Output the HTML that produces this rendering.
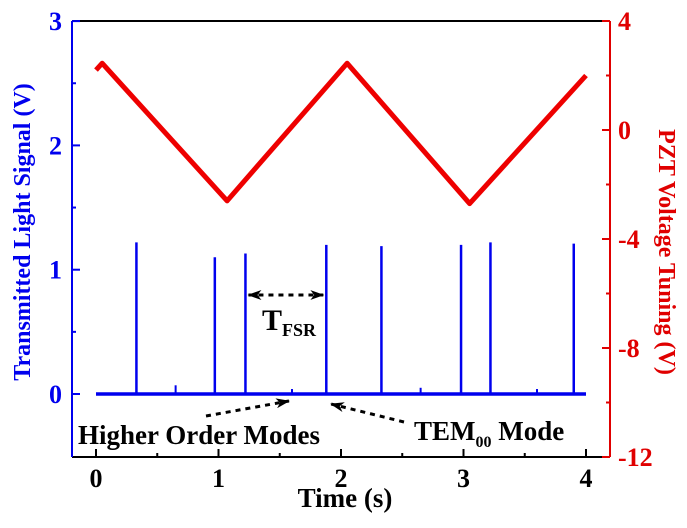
<!DOCTYPE html>
<html><head><meta charset="utf-8"><style>
body{margin:0;background:#fff}
svg text{font-family:"Liberation Serif",serif;font-weight:bold}
</style></head><body>
<svg id="c" width="687" height="523" viewBox="0 0 687 523">
<defs>
<marker id="ah2" viewBox="0 0 14 10" markerWidth="14" markerHeight="10" refX="13" refY="5" orient="auto" markerUnits="userSpaceOnUse"><path d="M0,0 L14,5 L0,10 L4,5 Z" fill="#000"/></marker>
<marker id="as2" viewBox="0 0 14 10" markerWidth="14" markerHeight="10" refX="1" refY="5" orient="auto" markerUnits="userSpaceOnUse"><path d="M14,0 L0,5 L14,10 L10,5 Z" fill="#000"/></marker>
</defs>
<g id="plot"></g>
</svg>
<script>
const xTicks=[0,1,2,3,4];
const leftTicks=[0,1,2,3];
const rightTicks=[4,0,-4,-8,-12];
const pztTimes=[0,0.05,1.07,2.05,3.05,4.0];
const pztVolts=[2.2,2.45,-2.6,2.45,-2.7,2.0];
const peakTimes=[0.33,0.97,1.22,1.88,2.33,2.98,3.22,3.90];
const peakHeights=[1.22,1.10,1.13,1.20,1.19,1.20,1.22,1.21];
const minorTimes=[0.65,1.6,2.65,3.6];
const minorHeights=[0.07,0.04,0.05,0.04];

const L=72,R=610,T=21,B=457;
const X=t=>96+t*122.5;
const YL=v=>394-v*124.3;
const YR=v=>21+(4-v)*27.25;
const NS='http://www.w3.org/2000/svg';
const g=document.getElementById('plot');
function el(tag,attrs,name,txt){const e=document.createElementNS(NS,tag);for(const k in attrs)e.setAttribute(k,attrs[k]);


if(txt!==undefined)e.textContent=txt;g.appendChild(e);return e;}

el('line',{x1:L,y1:T,x2:R,y2:T,stroke:'#000','stroke-width':2},'top-axis-line');
el('line',{x1:L,y1:B,x2:R,y2:B,stroke:'#000','stroke-width':2},'x-axis-line');
el('line',{x1:L,y1:T,x2:L,y2:B,stroke:'#0000ee','stroke-width':2},'left-y-axis-line');
el('line',{x1:R,y1:T,x2:R,y2:B,stroke:'#e00000','stroke-width':2},'right-y-axis-line');

xTicks.forEach(t=>{
  el('line',{x1:X(t),y1:B,x2:X(t),y2:B-8,stroke:'#000','stroke-width':2},'x-tick');
  if(t<4) el('line',{x1:X(t+0.5),y1:B,x2:X(t+0.5),y2:B-4,stroke:'#000','stroke-width':2},'x-minor-tick');
  el('text',{x:X(t),y:B+30,'text-anchor':'middle','font-size':26,fill:'#000'},'x-tick-label',String(t));
});
el('text',{x:345,y:507,'text-anchor':'middle','font-size':27,fill:'#000'},'x-axis-title','Time (s)');

leftTicks.forEach(v=>{
  el('line',{x1:L,y1:YL(v),x2:L+8,y2:YL(v),stroke:'#0000ee','stroke-width':2},'left-tick');
  el('line',{x1:L,y1:YL(v+0.5),x2:L+4,y2:YL(v+0.5),stroke:'#0000ee','stroke-width':2},'left-minor-tick');
  el('text',{x:62,y:YL(v)+9,'text-anchor':'end','font-size':26,fill:'#0000ee'},'left-tick-label',String(v));
});
el('text',{x:0,y:0,'text-anchor':'middle','font-size':24,fill:'#0000ee',transform:'translate(30,232) rotate(-90)'},'left-y-axis-title','Transmitted Light Signal (V)');

rightTicks.forEach(v=>{
  el('line',{x1:R,y1:YR(v),x2:R-8,y2:YR(v),stroke:'#e00000','stroke-width':2},'right-tick');
  if(v>-12) el('line',{x1:R,y1:YR(v-2),x2:R-4,y2:YR(v-2),stroke:'#e00000','stroke-width':2},'right-minor-tick');
  el('text',{x:618,y:YR(v)+9,'text-anchor':'start','font-size':26,fill:'#e00000'},'right-tick-label',String(v));
});
el('text',{x:0,y:0,'text-anchor':'middle','font-size':24,fill:'#e00000',transform:'translate(659,252) rotate(90)'},'right-y-axis-title','PZT Voltage Tuning (V)');

let pd=pztTimes.map((t,i)=>(i?'L':'M')+X(t)+','+YR(pztVolts[i])).join(' ');
el('path',{d:pd,fill:'none',stroke:'#ee0000','stroke-width':5,'stroke-linejoin':'round'},'pzt-voltage-series');

let bd='M'+X(0)+','+YL(0)+' L'+X(4)+','+YL(0);
el('path',{d:bd,fill:'none',stroke:'#0000ee','stroke-width':3.5},'signal-baseline');
peakTimes.forEach((t,i)=>{
  el('line',{x1:X(t),y1:YL(0),x2:X(t),y2:YL(peakHeights[i]),stroke:'#0000ee','stroke-width':2.5},'tem00-peak');
});
minorTimes.forEach((t,i)=>{
  el('line',{x1:X(t),y1:YL(0),x2:X(t),y2:YL(minorHeights[i]),stroke:'#0000ee','stroke-width':2},'higher-order-peak');
});

el('line',{x1:X(1.22)+3,y1:295,x2:X(1.88)-3,y2:295,stroke:'#000','stroke-width':3,'stroke-dasharray':'5,5','marker-end':'url(#ah2)','marker-start':'url(#as2)'},'fsr-arrow');
const tf=el('text',{x:262,y:330,'font-size':30,fill:'#000'},'tfsr-label','T');
const ts=document.createElementNS(NS,'tspan');ts.setAttribute('font-size','18');ts.setAttribute('dy','6');ts.textContent='FSR';


tf.appendChild(ts);
el('line',{x1:206,y1:416,x2:289,y2:401,stroke:'#000','stroke-width':3,'stroke-dasharray':'5,5','marker-end':'url(#ah2)'},'higher-order-arrow');
el('line',{x1:404,y1:422,x2:331,y2:404,stroke:'#000','stroke-width':3,'stroke-dasharray':'5,5','marker-end':'url(#ah2)'},'tem00-arrow');
el('text',{x:78,y:444,'font-size':27,fill:'#000'},'higher-order-modes-label','Higher Order Modes');
const tm=el('text',{x:414,y:440,'font-size':27,fill:'#000'},'tem00-mode-label','TEM');
const s1=document.createElementNS(NS,'tspan');s1.setAttribute('font-size','16');s1.setAttribute('dy','7');s1.textContent='00';


tm.appendChild(s1);
const s2=document.createElementNS(NS,'tspan');s2.setAttribute('dy','-7');s2.textContent=' Mode';


tm.appendChild(s2);
</script>
</body></html>
